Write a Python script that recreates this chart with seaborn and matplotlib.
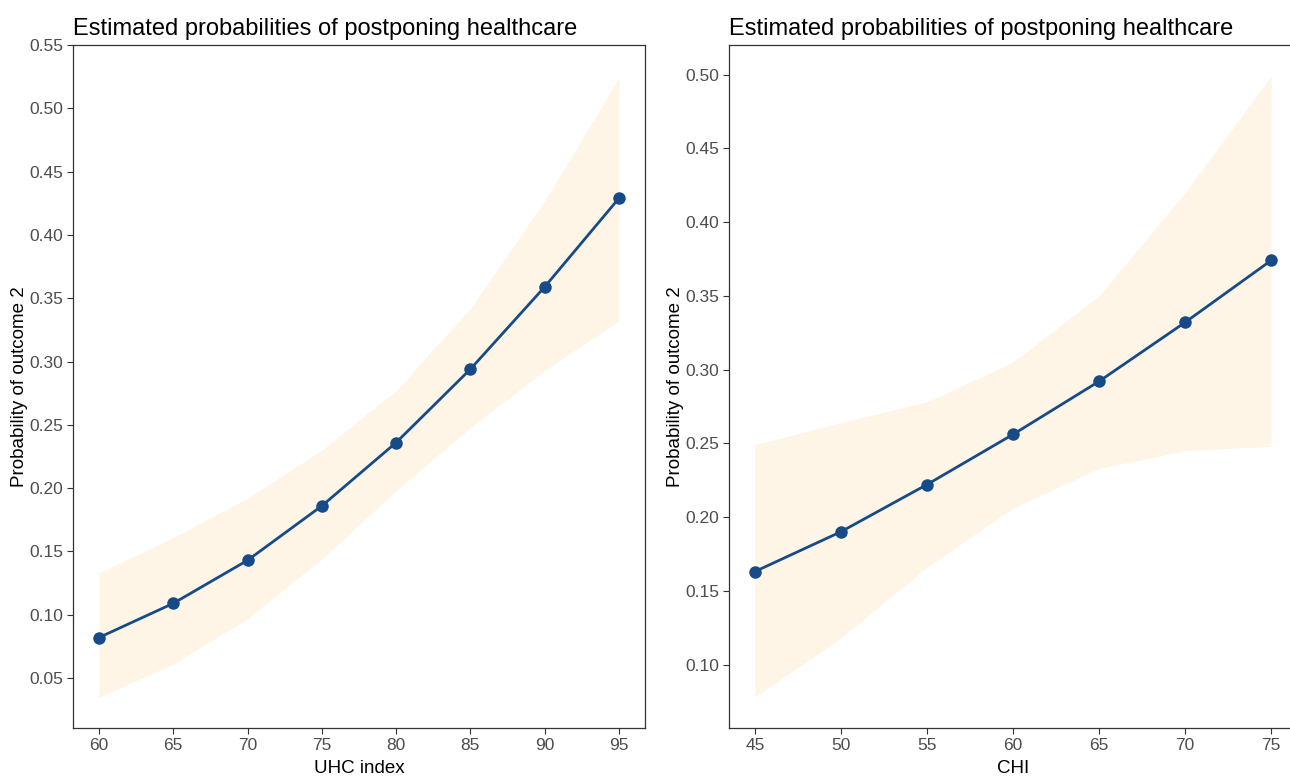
import pandas as pd
import matplotlib
matplotlib.use("Agg")
import matplotlib.pyplot as plt
import seaborn as sns

# dados
uhc_x = [60, 65, 70, 75, 80, 85, 90, 95]
uhc_prob = [0.082, 0.109, 0.143, 0.186, 0.236, 0.294, 0.359, 0.429]
uhc_low = [0.035, 0.061, 0.097, 0.144, 0.198, 0.248, 0.293, 0.332]
uhc_high = [0.133, 0.161, 0.192, 0.230, 0.277, 0.342, 0.427, 0.524]

chi_x = [45, 50, 55, 60, 65, 70, 75]
chi_prob = [0.163, 0.190, 0.222, 0.256, 0.292, 0.332, 0.374]
chi_low = [0.078, 0.118, 0.166, 0.206, 0.233, 0.245, 0.248]
chi_high = [0.249, 0.264, 0.278, 0.305, 0.350, 0.420, 0.499]

TITULO = "Estimated probabilities of postponing healthcare"
YLABEL = "Probability of outcome 2"

sns.set_theme(style="white")
plt.rcParams['font.family'] = ['Liberation Sans', 'DejaVu Sans']

COR_LINHA = '#164B88'
COR_FAIXA = '#FEF5E6'
COR_TEXTO = '#4D4D4D'


def painel(ax, x, prob, low, high, xlabel, yticks):
    df = pd.DataFrame({'x': x, 'prob': prob, 'low': low, 'high': high})
    ax.fill_between(df['x'], df['low'], df['high'], color=COR_FAIXA, linewidth=0)
    sns.lineplot(data=df, x='x', y='prob', ax=ax, color=COR_LINHA, linewidth=2.0,
                 marker='o', markersize=9, markeredgewidth=0)
    # expansão de 5% como no ggplot
    xr = max(x) - min(x)
    ax.set_xlim(min(x) - 0.05 * xr, max(x) + 0.05 * xr)
    yr = max(high) - min(low)
    ax.set_ylim(min(low) - 0.05 * yr, max(high) + 0.05 * yr)
    ax.set_xticks(x)
    ax.set_yticks(yticks)
    ax.set_yticklabels([f"{v:.2f}" for v in yticks])
    ax.set_title(TITULO, loc='left', fontsize=17, color='black', pad=7)
    ax.set_xlabel(xlabel, fontsize=13.5, color='black', labelpad=5)
    ax.set_ylabel(YLABEL, fontsize=13.5, color='black', labelpad=1)
    ax.tick_params(axis='both', which='major', labelsize=12.5, labelcolor=COR_TEXTO,
                   color='#333333', length=4, width=0.8, bottom=True, left=True, pad=3)
    for s in ax.spines.values():
        s.set_visible(True)
        s.set_color('#333333')
        s.set_linewidth(0.9)


fig = plt.figure(figsize=(12.9, 7.77), dpi=100)
ax1 = fig.add_axes([73 / 1290, 1 - 728 / 777, (645 - 73) / 1290, (728 - 45) / 777])
ax2 = fig.add_axes([729 / 1290, 1 - 728 / 777, (1297 - 729) / 1290, (728 - 45) / 777])

painel(ax1, uhc_x, uhc_prob, uhc_low, uhc_high, 'UHC index',
       [0.05, 0.10, 0.15, 0.20, 0.25, 0.30, 0.35, 0.40, 0.45, 0.50, 0.55])
painel(ax2, chi_x, chi_prob, chi_low, chi_high, 'CHI',
       [0.10, 0.15, 0.20, 0.25, 0.30, 0.35, 0.40, 0.45, 0.50])

fig.savefig("out.png", dpi=100)
